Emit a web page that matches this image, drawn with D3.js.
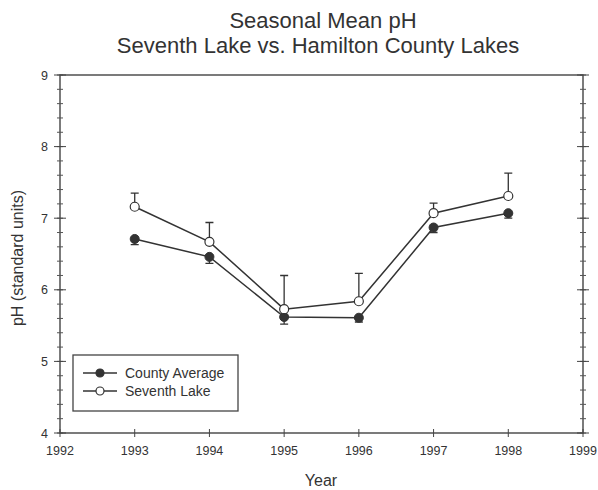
<!DOCTYPE html>
<meta charset="utf-8">
<head>
<style>
body { margin: 0; background: #fff; }
text { font-family: "Liberation Sans", Arial, sans-serif; fill: #333; }
</style>
<script src="https://cdnjs.cloudflare.com/ajax/libs/d3/7.8.5/d3.min.js"></script>
</head>
<body>
<div id="vis-container"></div>
</body>
<script>
// values
var years = [1993, 1994, 1995, 1996, 1997, 1998]
var countyAvg = [6.71, 6.46, 5.62, 5.61, 6.87, 7.07]
var countyErr = [0.08, 0.09, 0.10, 0.06, 0.07, 0.07]
var seventhLake = [7.16, 6.67, 5.73, 5.84, 7.07, 7.31]
var seventhErr = [0.19, 0.27, 0.47, 0.39, 0.14, 0.32]
var xTicks = [1992, 1993, 1994, 1995, 1996, 1997, 1998, 1999]
var yTicks = [4, 5, 6, 7, 8, 9]

var margin = {top: 75, right: 15, bottom: 57, left: 60},
    width = 598 - margin.left - margin.right,
    height = 490 - margin.top - margin.bottom;

var x = d3.scaleLinear().domain([1992, 1999]).range([0, width]);
var y = d3.scaleLinear().domain([4, 9]).range([height, 0]);

var root = d3.select('#vis-container').append('svg')
	.attr('width', 598)
	.attr('height', 490)

var svg = root.append('g')
	.attr('transform', 'translate(' + margin.left + ',' + margin.top + ')')

// titles
root.append('text').attr('x', 323).attr('y', 28).attr('text-anchor', 'middle')
	.style('font-size', '22px').text('Seasonal Mean pH')
root.append('text').attr('x', 318).attr('y', 53).attr('text-anchor', 'middle')
	.style('font-size', '22px').text('Seventh Lake vs. Hamilton County Lakes')

// frame
svg.append('rect').attr('width', width).attr('height', height)
	.attr('fill', 'none').attr('stroke', '#444').attr('stroke-width', 1.4)

var minorY = d3.range(4, 9.001, 0.2)

// left axis, ticks cross the line
svg.append('g').selectAll('line').data(minorY).enter().append('line')
	.attr('x1', -3).attr('x2', 3)
	.attr('y1', function(d) { return y(d) }).attr('y2', function(d) { return y(d) })
	.attr('stroke', '#555')
svg.append('g').selectAll('line').data(yTicks).enter().append('line')
	.attr('x1', -6).attr('x2', 6)
	.attr('y1', function(d) { return y(d) }).attr('y2', function(d) { return y(d) })
	.attr('stroke', '#444')
svg.append('g').selectAll('text').data(yTicks).enter().append('text')
	.attr('x', -12).attr('y', function(d) { return y(d) + 4.5 })
	.attr('text-anchor', 'end').style('font-size', '12.5px')
	.text(function(d) { return d })

// right axis mirror ticks
svg.append('g').selectAll('line').data(minorY).enter().append('line')
	.attr('x1', width - 3).attr('x2', width + 3)
	.attr('y1', function(d) { return y(d) }).attr('y2', function(d) { return y(d) })
	.attr('stroke', '#555')
svg.append('g').selectAll('line').data(yTicks).enter().append('line')
	.attr('x1', width - 6).attr('x2', width + 6)
	.attr('y1', function(d) { return y(d) }).attr('y2', function(d) { return y(d) })
	.attr('stroke', '#444')

// bottom axis
svg.append('g').selectAll('line').data(xTicks).enter().append('line')
	.attr('x1', function(d) { return x(d) }).attr('x2', function(d) { return x(d) })
	.attr('y1', height - 4).attr('y2', height + 4)
	.attr('stroke', '#444')
svg.append('g').selectAll('text').data(xTicks).enter().append('text')
	.attr('x', function(d) { return x(d) }).attr('y', height + 22)
	.attr('text-anchor', 'middle').style('font-size', '12.5px')
	.text(function(d) { return d })

// axis titles
root.append('text').attr('transform', 'translate(23,' + (margin.top + height / 2 + 4) + ') rotate(-90)')
	.attr('text-anchor', 'middle').style('font-size', '16px').text('pH (standard units)')
root.append('text').attr('x', 321).attr('y', 486).attr('text-anchor', 'middle')
	.style('font-size', '16px').text('Year')

var line = d3.line()
	.x(function(d) { return x(d[0]) })
	.y(function(d) { return y(d[1]) })

var county = years.map(function(yr, i) { return [yr, countyAvg[i], countyErr[i]] })
var seventh = years.map(function(yr, i) { return [yr, seventhLake[i], seventhErr[i]] })

// error bars: county downward, seventh lake upward
svg.append('g').selectAll('g').data(county).enter().append('path')
	.attr('d', function(d) {
		var x0 = x(d[0]), y0 = y(d[1]), y1 = y(d[1] - d[2])
		return 'M' + x0 + ',' + y0 + 'V' + y1 + 'M' + (x0 - 4) + ',' + y1 + 'H' + (x0 + 4)
	})
	.attr('stroke', '#333').attr('stroke-width', 1.3).attr('fill', 'none')
svg.append('g').selectAll('g').data(seventh).enter().append('path')
	.attr('d', function(d) {
		var x0 = x(d[0]), y0 = y(d[1]), y1 = y(d[1] + d[2])
		return 'M' + x0 + ',' + y0 + 'V' + y1 + 'M' + (x0 - 4) + ',' + y1 + 'H' + (x0 + 4)
	})
	.attr('stroke', '#333').attr('stroke-width', 1.3).attr('fill', 'none')

svg.append('path').datum(county).attr('d', line)
	.attr('fill', 'none').attr('stroke', '#333').attr('stroke-width', 1.5)
svg.append('path').datum(seventh).attr('d', line)
	.attr('fill', 'none').attr('stroke', '#333').attr('stroke-width', 1.5)

svg.selectAll('.dotC').data(county).enter().append('circle')
	.attr('r', 4.5)
	.attr('cx', function(d) { return x(d[0]) })
	.attr('cy', function(d) { return y(d[1]) })
	.attr('fill', '#333').attr('stroke', '#333')
svg.selectAll('.dotS').data(seventh).enter().append('circle')
	.attr('r', 4.5)
	.attr('cx', function(d) { return x(d[0]) })
	.attr('cy', function(d) { return y(d[1]) })
	.attr('fill', '#fff').attr('stroke', '#333').attr('stroke-width', 1.2)

// legend
var lg = root.append('g').attr('transform', 'translate(73,355)')
lg.append('rect').attr('width', 165).attr('height', 56)
	.attr('fill', '#fff').attr('stroke', '#444').attr('stroke-width', 1.3)
var legendItems = [['County Average', '#333'], ['Seventh Lake', '#fff']]
legendItems.forEach(function(item, i) {
	var ly = 18 + i * 18
	lg.append('line').attr('x1', 10).attr('x2', 44).attr('y1', ly).attr('y2', ly)
		.attr('stroke', '#333').attr('stroke-width', 1.4)
	lg.append('circle').attr('cx', 27).attr('cy', ly).attr('r', 4)
		.attr('fill', item[1]).attr('stroke', '#333').attr('stroke-width', 1.2)
	lg.append('text').attr('x', 52).attr('y', ly + 5).style('font-size', '14px').text(item[0])
})
</script>
</html>
